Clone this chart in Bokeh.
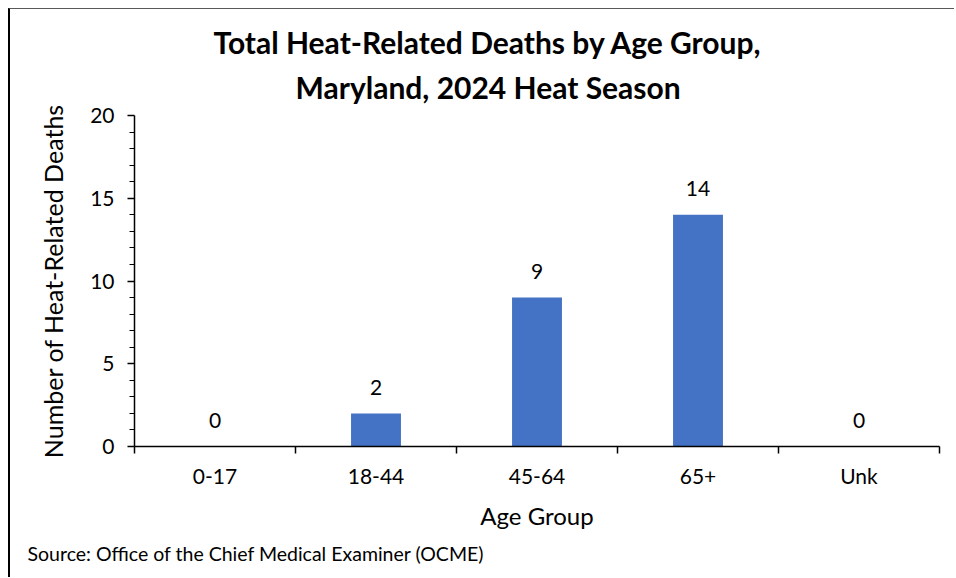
from bokeh.plotting import figure
from bokeh.models import Range1d, FixedTicker, Title, ColumnDataSource
from bokeh.core.properties import value
from bokeh.embed import file_html
from bokeh.resources import INLINE

# ---- data ----
categories = ["0-17", "18-44", "45-64", "65+", "Unk"]
deaths = [0, 2, 9, 14, 0]
y_ticks = [0, 5, 10, 15, 20]
title_lines = ["Total Heat-Related Deaths by Age Group,", "Maryland, 2024 Heat Season"]
x_title = "Age Group"
y_title = "Number of Heat-Related Deaths"
source_note = "Source: Office of the Chief Medical Examiner (OCME)"

FONT = "Lato"
BAR = "#4472C4"

# frame in canvas coords: x 124..929, y 106..437 (canvas starts at page (10, 9))
W, H = 946, 569
FL, FR, FT, FB = 124, 17, 106, 132
p = figure(width=W, height=H, output_backend="svg", toolbar_location=None,
           x_range=Range1d(0, len(categories)), y_range=Range1d(0, 20),
           min_border_left=FL, min_border_right=FR, min_border_top=FT, min_border_bottom=FB)
p.styles = {"margin-left": "8px", "margin-top": "8px",
            "border-left": "2px solid #000000", "border-top": "1px solid #595959"}
p.outline_line_color = None
p.xgrid.visible = False
p.ygrid.visible = False
p.background_fill_color = "white"
p.border_fill_color = "white"

centers = [i + 0.5 for i in range(len(categories))]
src = ColumnDataSource(dict(x=centers, top=deaths, label=[str(v) for v in deaths]))
p.vbar(x="x", top="top", bottom=0, width=0.31, source=src, fill_color=BAR, line_color=None)
p.text(x="x", y="top", text="label", source=src, text_align="center", text_baseline="alphabetic",
       y_offset=-26, text_font=value(FONT), text_font_size="21px", text_color="#000000")

# x axis: labels at centers, ticks at category boundaries
xa = p.xaxis[0]
xa.ticker = FixedTicker(ticks=centers, minor_ticks=list(range(len(categories) + 1)))
xa.major_label_overrides = {c: lab for c, lab in zip(centers, categories)}
xa.major_tick_out = 0
xa.major_tick_in = 0
xa.minor_tick_out = 7
xa.minor_tick_in = 0
xa.minor_tick_line_color = "black"
xa.minor_tick_line_width = 1.5
xa.axis_line_color = "black"
xa.axis_line_width = 1.5
xa.major_label_text_font = FONT
xa.major_label_text_font_size = "21px"
xa.major_label_text_color = "#000000"
xa.major_label_standoff = 9
xa.axis_label = x_title
xa.axis_label_text_font = FONT
xa.axis_label_text_font_style = "normal"
xa.axis_label_text_font_size = "24px"
xa.axis_label_text_color = "#000000"
xa.axis_label_standoff = 10

ya = p.yaxis[0]
ya.ticker = FixedTicker(ticks=y_ticks, minor_ticks=[t for t in range(0, 21) if t % 5 != 0])
ya.major_tick_out = 7
ya.major_tick_in = 0
ya.minor_tick_out = 5
ya.minor_tick_in = 0
ya.major_tick_line_color = "black"
ya.minor_tick_line_color = "black"
ya.major_tick_line_width = 1.5
ya.minor_tick_line_width = 1.2
ya.axis_line_color = "black"
ya.axis_line_width = 1.5
ya.major_label_text_font = FONT
ya.major_label_text_font_size = "21px"
ya.major_label_text_color = "#000000"
ya.major_label_standoff = 13
ya.axis_label = y_title
ya.axis_label_text_font = FONT
ya.axis_label_text_font_style = "normal"
ya.axis_label_text_font_size = "25px"
ya.axis_label_text_color = "#000000"
ya.axis_label_standoff = 19


def make_title(txt, offset, standoff, fallback_standoff):
    kw = dict(text=txt, align="left", vertical_align="top", offset=offset,
              text_font=FONT, text_font_style="bold", text_font_size="30px", text_color="#000000")
    try:
        return Title(standoff=standoff, **kw)
    except ValueError:
        return Title(standoff=fallback_standoff, **kw)


# title: two lines stacked above the frame (the later one added sits further out)
p.add_layout(make_title(title_lines[1], 161, 17, 17), "above")
p.add_layout(make_title(title_lines[0], 79, -3, 0), "above")

p.add_layout(Title(text=source_note, align="left", vertical_align="bottom", offset=-107,
                   standoff=15, text_font=FONT, text_font_style="normal",
                   text_font_size="19.5px", text_color="#000000"), "below")

open("out.html", "w").write(file_html(p, INLINE))
